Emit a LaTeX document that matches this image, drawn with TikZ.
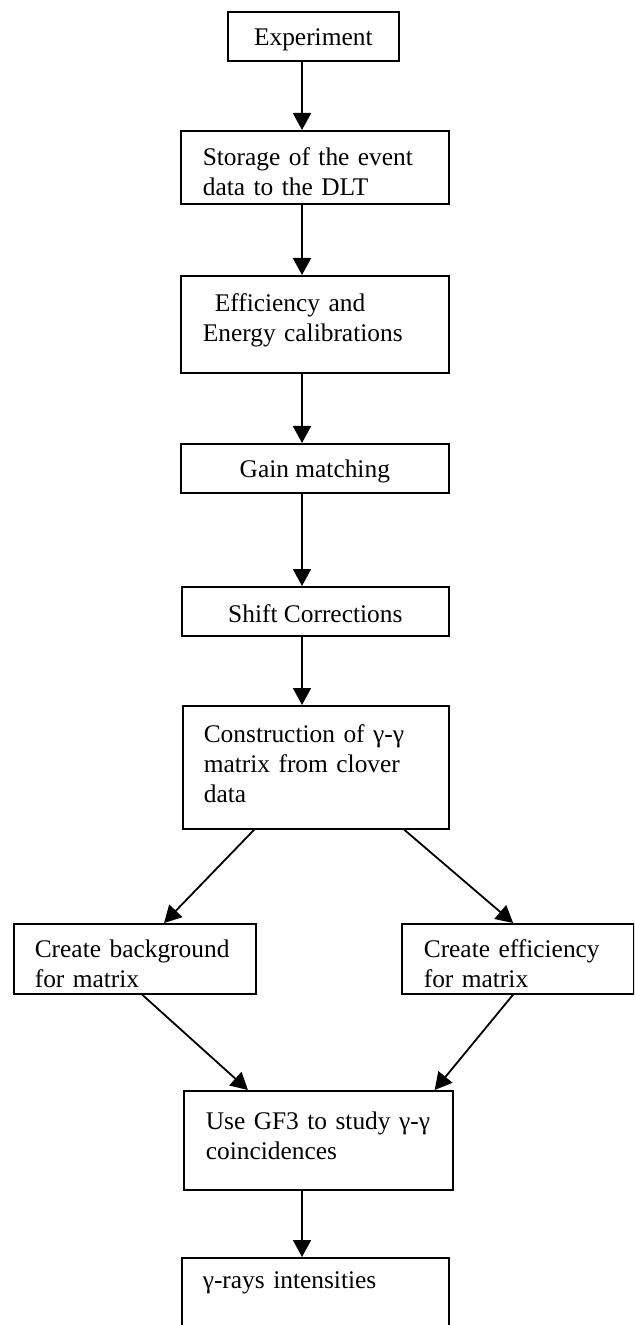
\documentclass[tikz,border=0pt]{standalone}
\usepackage{fontspec}
\setmainfont{Liberation Serif}
\usetikzlibrary{arrows.meta,calc}

\begin{document}
\begin{tikzpicture}[x=0.5pt,y=-0.5pt,
  box/.style={draw,line width=0.8pt,anchor=north west,inner ysep=0pt,
    font=\fontsize{12.7}{15}\selectfont},
  lbox/.style={box,align=left,inner xsep=11pt,text width=#1},
  cbox/.style={box,align=center},
  arr/.style={-{Triangle[length=8.5pt,width=9pt]},line width=0.9pt}]
 \useasboundingbox (0,0) rectangle (634,1325);
 \clip (0,0) rectangle (634,1325);
 % main column
 \node[cbox,minimum width=85.5pt,text height=17pt,text depth=7.5pt] (exp) at (227,11) {Experiment};
 \node[lbox=112pt,text height=17.5pt,text depth=19pt] (store) at (180,130) {Storage of the event\\data to the DLT};
 \node[lbox=112pt,text height=18pt,text depth=30.5pt] (eff) at (180,275) {\hspace*{6pt}Efficiency and\\Energy calibrations};
 \node[cbox,minimum width=134pt,text height=17pt,text depth=7.5pt] (gain) at (180,443) {Gain matching};
 \node[cbox,minimum width=133.5pt,text height=18pt,text depth=6.5pt] (shift) at (181,586) {Shift Corrections};
 \node[lbox=112pt,inner xsep=10.5pt,text height=18.5pt,text depth=43pt] (constr) at (182,705) {\mbox{Construction of γ-γ}\\matrix from clover\\data};
 % side boxes
 \node[lbox=100pt,inner xsep=10.5pt,text height=17pt,text depth=18pt] (bg) at (13,923) {Create background\\for matrix};
 \node[lbox=94pt,text height=17pt,text depth=18pt] (effm) at (401,923) {Create efficiency\\for matrix};
 % bottom
 \node[lbox=112.5pt,text height=19.5pt,text depth=30pt] (gf3) at (183,1090) {\mbox{Use GF3 to study γ-γ}\\coincidences};
 \node[lbox=112.5pt,inner xsep=10.5pt,text height=15.5pt,text depth=28.5pt] (gamma) at (181,1257) {γ-rays intensities};
 % connectors
 \coordinate (col) at (302,0);
 \draw[arr,line width=1.1pt] (exp.south -| col) -- (store.north -| col);
 \draw[arr,line width=1.1pt] (store.south -| col) -- (eff.north -| col);
 \draw[arr] (eff.south -| col) -- (gain.north -| col);
 \draw[arr] (gain.south -| col) -- (shift.north -| col);
 \draw[arr] (shift.south -| col) -- (constr.north -| col);
 \draw[arr] ($(constr.south west)!0.27!(constr.south east)$) -- ($(bg.north west)!0.62!(bg.north east)$);
 \draw[arr] ($(constr.south west)!0.83!(constr.south east)$) -- ($(effm.north west)!0.48!(effm.north east)$);
 \draw[arr] ($(bg.south west)!0.53!(bg.south east)$) -- ($(gf3.north west)!0.24!(gf3.north east)$);
 \draw[arr] ($(effm.south west)!0.48!(effm.south east)$) -- ($(gf3.north west)!0.93!(gf3.north east)$);
 \draw[arr] (gf3.south -| col) -- (gamma.north -| col);
\end{tikzpicture}
\end{document}
